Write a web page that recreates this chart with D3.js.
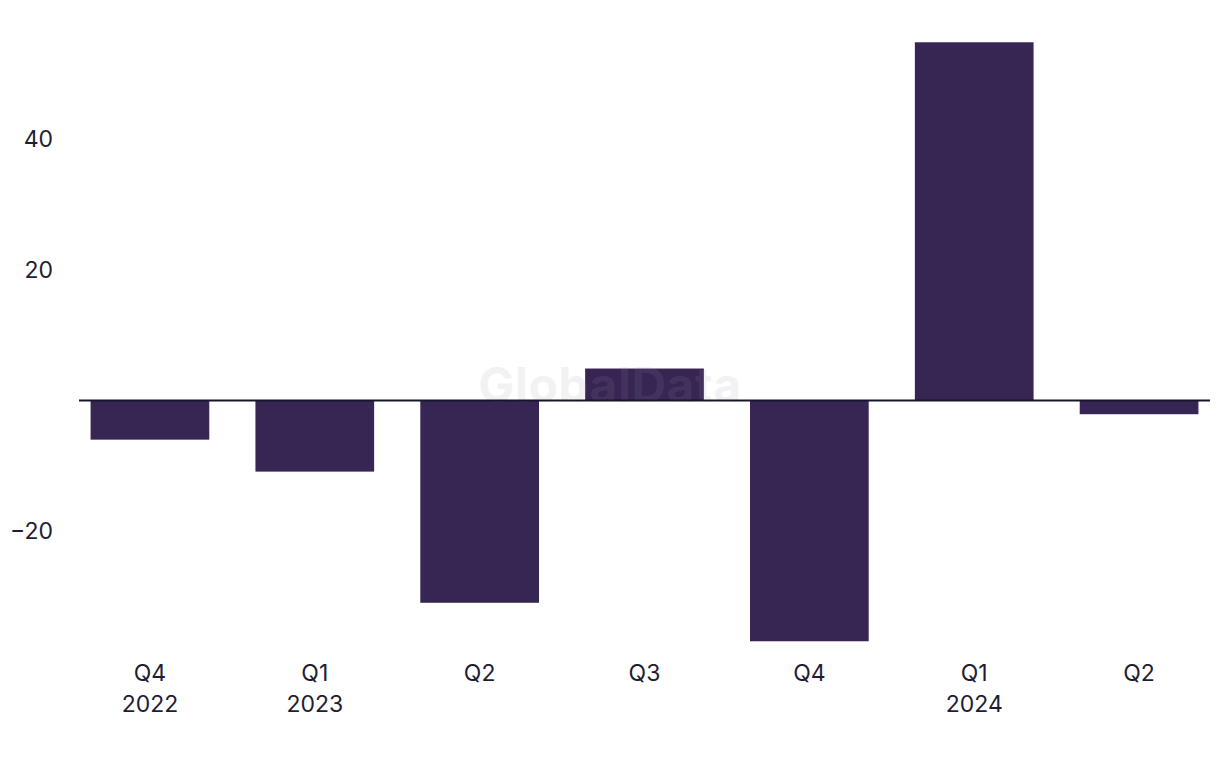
<!DOCTYPE html>
<html><head><meta charset="utf-8">
<script src="https://cdn.jsdelivr.net/npm/d3@7"></script>
<style>body{margin:0;background:#fff;} text{font-family:Inter, "Noto Sans", sans-serif;}</style>
</head><body>
<svg id="c" width="1220" height="768"></svg>
<script>
const quarters = ["Q4","Q1","Q2","Q3","Q4","Q1","Q2"];
const years = ["2022","2023","","","","2024",""];
const values = [-6.0, -10.9, -31.0, 4.9, -36.9, 54.9, -2.1];
const yTicks = [-20, 20, 40];

const svg = d3.select("#c");
const x = d3.scaleBand().domain(d3.range(values.length)).range([67.5, 1221.5]).paddingInner(0.28).paddingOuter(0.14);
const y = d3.scaleLinear().domain([-20, 40]).range([531, 139.5]);

svg.append("text").attr("x", 610).attr("y", 402).attr("text-anchor","middle")
  .attr("font-size", 48).attr("font-weight", 700).attr("fill", "#e8e8ec").attr("fill-opacity", 0.55)
  .attr("letter-spacing", 0.5)
  .text("GlobalData");

svg.selectAll("rect.bar").data(values).join("rect").attr("class","bar")
  .attr("x", (d,i)=>x(i)).attr("width", x.bandwidth())
  .attr("y", d=>y(Math.max(0,d))).attr("height", d=>Math.abs(y(d)-y(0)))
  .attr("fill", "#372553");

svg.append("text").attr("x", 610).attr("y", 402).attr("text-anchor","middle")
  .attr("font-size", 48).attr("font-weight", 700).attr("fill", "#ffffff").attr("fill-opacity", 0.08)
  .attr("letter-spacing", 0.5)
  .text("GlobalData");

svg.append("line").attr("x1", 79).attr("x2", 1210).attr("y1", y(0)).attr("y2", y(0))
  .attr("stroke", "#16152b").attr("stroke-width", 2);

const yAxis = d3.axisLeft(y).tickValues(yTicks).tickSize(0).tickPadding(0).tickFormat(d => d < 0 ? "\u2212" + Math.abs(d) : d);
const ga = svg.append("g").attr("transform","translate(53,0)").call(yAxis);
ga.select(".domain").remove();
ga.selectAll("text").attr("font-size", 23).attr("fill", "#1e1d33").attr("font-family","Inter, sans-serif");

const xl = svg.append("g");
xl.selectAll("text.q").data(quarters).join("text").attr("class","q")
  .attr("x",(d,i)=>x(i)+x.bandwidth()/2).attr("y", 681).attr("text-anchor","middle")
  .attr("font-size", 23).attr("fill","#1e1d33").text(d=>d);
xl.selectAll("text.yr").data(years).join("text").attr("class","yr")
  .attr("x",(d,i)=>x(i)+x.bandwidth()/2).attr("y", 712).attr("text-anchor","middle")
  .attr("font-size", 23).attr("fill","#1e1d33").text(d=>d);
</script>
</body></html>
